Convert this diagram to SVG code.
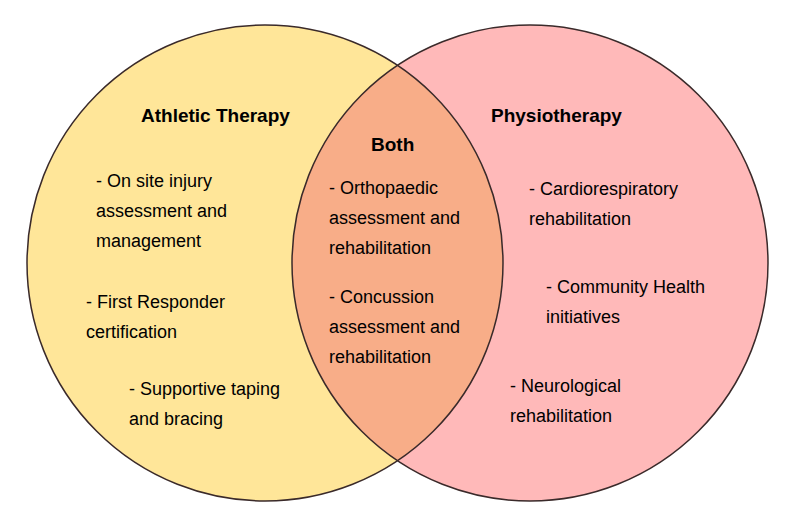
<svg xmlns="http://www.w3.org/2000/svg" width="802" height="520" viewBox="0 0 802 520">
<style>
text{font-family:"Liberation Sans","Noto Sans",sans-serif;font-size:18px;fill:#000}
.b{font-weight:bold;font-size:19px}
.c{stroke:#3a2a2a;stroke-width:1.5}
</style>
<defs><clipPath id="cl"><circle cx="265" cy="263" r="238"/></clipPath></defs>
<rect width="802" height="520" fill="#fff"/>
<g id="athletic"><circle cx="265" cy="263" r="238" fill="#FFE699"/></g>
<g id="physio"><circle cx="530" cy="263" r="238" fill="#FFB9B9"/></g>
<g id="both"><circle cx="530" cy="263" r="238" fill="#F8AD88" clip-path="url(#cl)"/></g>
<g id="outlines" fill="none"><circle class="c" cx="265" cy="263" r="238"/><circle class="c" cx="530" cy="263" r="238"/></g>
<text class="b" x="141" y="122">Athletic Therapy</text>
<text class="b" x="491" y="122">Physiotherapy</text>
<text class="b" x="371" y="151">Both</text>
<text x="96" y="187">- On site injury</text>
<text x="96" y="217">assessment and</text>
<text x="96" y="247">management</text>
<text x="86" y="308">- First Responder</text>
<text x="86" y="338">certification</text>
<text x="129" y="395">- Supportive taping</text>
<text x="129" y="425">and bracing</text>
<text x="329" y="194">- Orthopaedic</text>
<text x="329" y="224">assessment and</text>
<text x="329" y="254">rehabilitation</text>
<text x="329" y="303">- Concussion</text>
<text x="329" y="333">assessment and</text>
<text x="329" y="363">rehabilitation</text>
<text x="529" y="195">- Cardiorespiratory</text>
<text x="529" y="225">rehabilitation</text>
<text x="546" y="293">- Community Health</text>
<text x="546" y="323">initiatives</text>
<text x="510" y="392">- Neurological</text>
<text x="510" y="422">rehabilitation</text>
</svg>
